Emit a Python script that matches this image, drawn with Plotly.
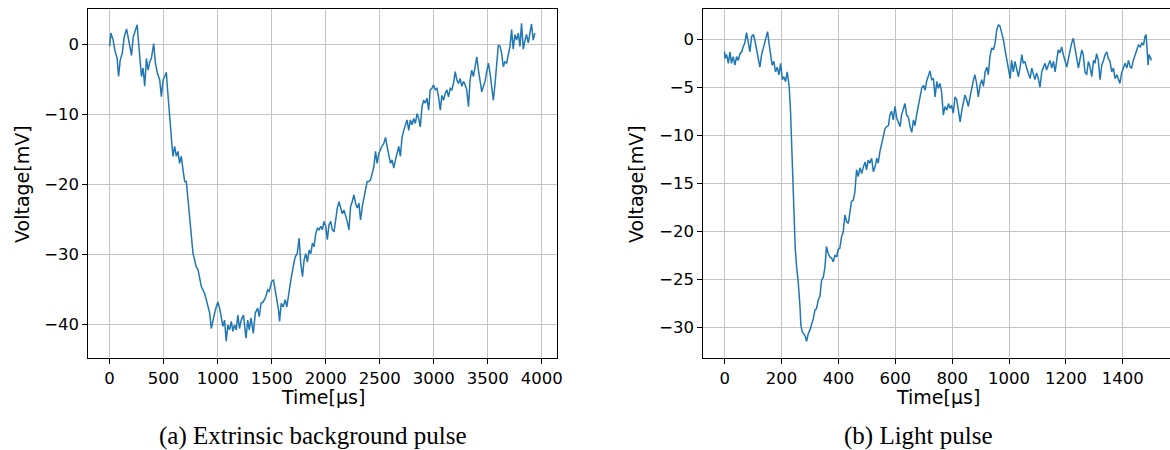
import plotly.graph_objects as go

# ---------------- data ----------------
# (a) Extrinsic background pulse
time_a = [0, 12, 33, 49, 70, 83, 98, 117, 135, 157, 172, 188, 203, 218, 234, 255, 264, 280, 295, 310,
          325, 341, 356, 372, 387, 408, 424, 442, 464, 479, 495, 510, 525, 534, 547, 562, 578, 587, 602, 618,
          633, 648, 664, 679, 695, 710, 725, 741, 756, 772, 787, 802, 818, 833, 849, 864, 879, 895, 910, 926,
          941, 956, 972, 987, 1002, 1018, 1033, 1049, 1064, 1079, 1095, 1110, 1126, 1141, 1156, 1172, 1187, 1202, 1218, 1239,
          1262, 1278, 1293, 1309, 1330, 1348, 1370, 1385, 1401, 1422, 1447, 1462, 1477, 1499, 1517, 1533, 1548, 1563, 1573, 1588,
          1606, 1625, 1640, 1656, 1677, 1699, 1717, 1736, 1754, 1769, 1785, 1800, 1815, 1831, 1846, 1862, 1877, 1892, 1908, 1923,
          1938, 1954, 1969, 1984, 2000, 2015, 2030, 2046, 2061, 2077, 2092, 2107, 2123, 2138, 2153, 2169, 2184, 2199, 2215, 2230,
          2245, 2261, 2276, 2292, 2307, 2322, 2338, 2353, 2368, 2384, 2399, 2414, 2430, 2445, 2461, 2476, 2491, 2507, 2522, 2537,
          2553, 2568, 2583, 2599, 2614, 2630, 2645, 2660, 2676, 2691, 2706, 2722, 2737, 2752, 2768, 2783, 2798, 2814, 2829, 2845,
          2860, 2875, 2891, 2906, 2921, 2937, 2952, 2967, 2983, 2998, 3014, 3029, 3044, 3060, 3075, 3090, 3106, 3121, 3136, 3152,
          3167, 3182, 3198, 3213, 3228, 3244, 3259, 3275, 3290, 3305, 3321, 3336, 3351, 3367, 3382, 3398, 3413, 3428, 3444, 3459,
          3474, 3490, 3505, 3520, 3536, 3551, 3567, 3582, 3597, 3613, 3628, 3643, 3659, 3674, 3689, 3705, 3720, 3735, 3751, 3766,
          3782, 3797, 3812, 3828, 3843, 3858, 3874, 3889, 3904, 3920, 3935]
volt_a = [-0.3, 1.6, 0.6, -0.9, -2.0, -4.6, -2.3, -1.3, 1.0, 2.2, 1.0, -0.4, -1.6, 1.0, 1.7, 2.8, 1.0, -2.0, -4.6, -3.4,
          -6.0, -2.0, -3.7, -2.5, -2.0, 0.1, -2.7, -4.1, -5.1, -7.5, -5.1, -4.6, -4.0, -6.0, -8.9, -11.8, -14.6, -16.0, -14.6, -16.0,
          -15.3, -17.0, -16.0, -17.9, -19.6, -19.6, -22.2, -25.1, -27.5, -29.9, -30.8, -31.8, -32.2, -33.7, -34.6, -35.1, -35.6, -36.5, -37.5, -38.4,
          -40.6, -39.4, -38.4, -37.5, -36.8, -37.7, -39.1, -40.3, -39.4, -42.4, -40.1, -40.8, -39.6, -41.0, -40.1, -40.8, -38.7, -40.6, -39.4, -38.7,
          -42.0, -39.4, -40.8, -39.1, -41.3, -38.4, -37.7, -38.9, -37.0, -36.8, -36.0, -35.1, -35.3, -33.9, -33.7, -35.1, -36.3, -37.9, -39.6, -37.0,
          -37.5, -36.5, -37.5, -35.6, -33.7, -31.8, -30.4, -29.9, -27.7, -31.3, -33.2, -30.8, -29.9, -31.1, -29.4, -29.9, -28.4, -28.9, -27.0, -26.3,
          -26.5, -26.0, -26.5, -25.3, -26.0, -27.9, -25.8, -25.3, -26.5, -26.8, -25.1, -23.4, -22.5, -23.2, -24.2, -23.7, -24.4, -25.3, -26.5, -23.2,
          -22.5, -21.5, -22.7, -23.4, -22.7, -25.1, -23.2, -22.2, -20.8, -19.6, -19.6, -19.4, -18.4, -17.5, -15.3, -17.0, -15.6, -14.9, -14.5, -14.2,
          -13.3, -14.6, -15.8, -17.0, -16.5, -17.7, -16.5, -15.6, -14.6, -16.0, -13.3, -12.3, -11.4, -10.8, -12.3, -10.8, -11.5, -10.6, -11.3, -9.9,
          -10.6, -11.8, -8.9, -8.0, -8.4, -7.7, -9.4, -6.5, -6.3, -5.8, -6.5, -6.3, -7.5, -9.4, -7.3, -8.0, -7.0, -6.5, -7.5, -6.3,
          -6.5, -5.6, -3.9, -5.1, -5.6, -4.9, -6.0, -5.3, -5.8, -6.5, -8.9, -5.1, -3.7, -4.6, -3.2, -1.8, -3.7, -5.1, -6.8, -6.0,
          -5.3, -3.9, -2.7, -4.1, -6.3, -8.0, -5.6, -2.5, -0.1, -0.3, -1.3, -3.2, -2.5, -2.7, -1.3, -0.3, 2.1, -0.7, 1.4, 0.6,
          1.6, -0.3, 3.0, -0.7, 0.5, 1.4, 0.2, 1.6, 2.9, 0.6, 1.6]

# (b) Light pulse
time_b = [0, 1, 7, 13, 19, 24, 30, 36, 42, 48, 54, 60, 65, 71, 77, 83, 89, 95, 101, 107,
          112, 118, 124, 130, 136, 142, 148, 151, 156, 162, 167, 173, 179, 185, 191, 197, 203, 208, 214, 220,
          224, 227, 232, 236, 239, 244, 248, 253, 259, 265, 268, 273, 278, 284, 288, 294, 300, 306, 312, 318,
          323, 329, 335, 341, 347, 353, 358, 364, 370, 376, 382, 388, 394, 399, 405, 411, 417, 423, 429, 435,
          440, 446, 452, 458, 464, 470, 476, 482, 488, 494, 499, 505, 511, 517, 523, 529, 535, 540, 546, 552,
          558, 564, 570, 576, 581, 587, 593, 599, 605, 611, 617, 622, 628, 634, 640, 646, 652, 658, 664, 669,
          675, 681, 687, 693, 699, 705, 710, 716, 722, 728, 734, 740, 746, 751, 757, 763, 769, 775, 781, 787,
          792, 798, 804, 810, 816, 822, 828, 834, 839, 845, 851, 857, 863, 869, 875, 880, 886, 892, 898, 904,
          910, 916, 922, 927, 933, 939, 945, 951, 957, 963, 968, 974, 980, 986, 992, 998, 1004, 1009, 1015, 1021,
          1027, 1033, 1039, 1045, 1050, 1056, 1062, 1068, 1074, 1080, 1086, 1091, 1097, 1103, 1109, 1115, 1121, 1127, 1132, 1138,
          1144, 1150, 1156, 1162, 1168, 1173, 1179, 1185, 1191, 1197, 1203, 1209, 1215, 1220, 1226, 1232, 1238, 1244, 1250, 1256,
          1261, 1267, 1273, 1279, 1285, 1291, 1297, 1302, 1308, 1314, 1320, 1326, 1332, 1338, 1344, 1349, 1355, 1361, 1367, 1373,
          1379, 1385, 1390, 1396, 1402, 1408, 1414, 1420, 1426, 1431, 1437, 1443, 1449, 1455, 1461, 1467, 1473, 1478, 1482, 1485,
          1489, 1492, 1496, 1501]
volt_b = [-1.3, -2.0, -1.6, -2.5, -1.3, -2.5, -1.8, -2.7, -1.8, -2.2, -1.5, -1.3, -0.8, -0.4, 0.7, -0.2, -1.3, 0.3, 0.5, -0.2,
          -1.1, -1.8, -2.9, -1.6, -0.9, -0.2, 0.3, 0.8, -0.4, -1.5, -2.7, -2.3, -3.4, -2.9, -3.7, -2.5, -4.2, -3.9, -4.4, -3.4,
          -4.6, -4.9, -7.7, -11.5, -14.7, -18.1, -21.6, -23.7, -25.4, -27.9, -29.8, -30.5, -30.7, -31.0, -31.5, -30.7, -30.3, -29.8, -29.1, -28.2,
          -28.1, -27.2, -26.8, -25.1, -24.8, -23.7, -21.6, -22.3, -22.7, -22.8, -23.2, -22.5, -22.7, -21.9, -21.8, -20.6, -20.1, -18.3, -19.0, -19.2,
          -18.1, -16.9, -16.8, -15.9, -13.6, -14.3, -13.4, -14.0, -13.3, -12.8, -13.6, -12.6, -12.9, -12.4, -13.8, -13.3, -12.4, -12.9, -11.7, -10.9,
          -9.8, -9.3, -9.1, -9.0, -7.9, -7.5, -8.4, -7.0, -8.2, -8.6, -9.1, -7.9, -7.4, -6.7, -7.9, -8.1, -9.1, -9.7, -8.4, -9.0,
          -7.9, -7.0, -6.0, -5.1, -4.8, -5.3, -4.4, -3.7, -3.3, -4.2, -4.1, -6.0, -4.4, -5.1, -4.6, -5.5, -7.9, -7.0, -7.4, -6.7,
          -7.2, -6.9, -7.7, -6.0, -6.3, -7.4, -8.6, -7.4, -6.7, -5.8, -6.3, -7.0, -6.0, -4.9, -4.2, -3.7, -4.6, -6.0, -4.8, -4.2,
          -4.9, -3.4, -2.9, -3.7, -1.8, -0.9, -1.1, -0.4, 1.0, 1.5, 1.4, 0.7, 0.0, -1.1, -2.0, -2.9, -4.1, -2.2, -3.4, -2.3,
          -3.0, -3.9, -2.9, -1.6, -2.5, -2.3, -3.0, -3.7, -4.1, -3.0, -3.7, -4.2, -3.5, -4.1, -5.0, -3.4, -2.9, -2.5, -3.2, -2.7,
          -2.2, -3.0, -2.3, -3.4, -1.8, -1.1, -1.4, -0.8, -1.6, -2.3, -2.9, -2.0, -1.1, -0.4, 0.1, -0.9, -1.6, -3.0, -2.0, -1.1,
          -1.6, -3.4, -3.7, -2.3, -2.9, -3.9, -2.2, -2.5, -1.5, -2.2, -4.2, -2.7, -2.2, -1.6, -1.3, -2.0, -2.3, -3.4, -3.0, -4.1,
          -3.7, -4.2, -4.6, -3.5, -2.9, -2.5, -3.0, -2.2, -2.9, -3.0, -2.2, -1.6, -1.1, -0.6, -0.8, -0.4, -0.6, 0.3, 0.5, -1.1,
          -2.7, -1.6, -1.8, -2.2]

xticks_a = [0, 500, 1000, 1500, 2000, 2500, 3000, 3500, 4000]
yticks_a = [-40, -30, -20, -10, 0]
xticks_b = [0, 200, 400, 600, 800, 1000, 1200, 1400]
yticks_b = [-30, -25, -20, -15, -10, -5, 0]
x_title = "Time[µs]"
y_title = "Voltage[mV]"
captions = ["(a) Extrinsic background pulse", "(b) Light pulse"]


def lab(v):
    return str(v).replace("-", "\u2212")


# ---------------- figure ----------------
W, H = 1170, 450
LINE = "#1f77b4"
GRID = "#c4c4c4"
TICKFONT = dict(family="DejaVu Sans", size=16.5, color="black")
TITLEFONT = dict(family="DejaVu Sans", size=19, color="black")

fig = go.Figure()
fig.add_trace(go.Scatter(x=time_a, y=volt_a, mode="lines", xaxis="x", yaxis="y",
                         line=dict(color=LINE, width=1.5), showlegend=False))
fig.add_trace(go.Scatter(x=time_b, y=volt_b, mode="lines", xaxis="x2", yaxis="y2",
                         line=dict(color=LINE, width=1.5), showlegend=False))

ydom = [1 - 358.3 / H, 1 - 9.3 / H]
common = dict(showgrid=True, gridcolor=GRID, gridwidth=1, zeroline=False,
              showline=True, linecolor="black", linewidth=1,
              ticks="outside", ticklen=5, tickwidth=1, tickcolor="black",
              tickfont=TICKFONT, tickmode="array", automargin=False)

fig.update_layout(
    width=W, height=H,
    margin=dict(l=0, r=0, t=0, b=0, autoexpand=False),
    paper_bgcolor="white", plot_bgcolor="white",
    xaxis=dict(domain=[88.3 / W, 557 / W], range=[-197, 4140], anchor="y", mirror=True,
               tickvals=xticks_a, ticktext=[lab(v) for v in xticks_a], **common),
    yaxis=dict(domain=ydom, range=[-44.86, 5.0], anchor="x", mirror=True,
               tickvals=yticks_a, ticktext=[lab(v) for v in yticks_a], **common),
    xaxis2=dict(domain=[703.3 / W, 1.0], range=[-75, 1566], anchor="y2", mirror=True,
                tickvals=xticks_b, ticktext=[lab(v) for v in xticks_b], **common),
    yaxis2=dict(domain=ydom, range=[-33.26, 3.13], anchor="x2", mirror=False,
                tickvals=yticks_b, ticktext=[lab(v) for v in yticks_b], **common),
)

ann = []
# axis titles
for cx in (322.6, 938.0):
    ann.append(dict(text=x_title, x=cx / W, y=1 - 397 / H, xref="paper", yref="paper",
                    xanchor="center", yanchor="middle", showarrow=False, font=TITLEFONT))
for cx in (22.0, 636.0):
    ann.append(dict(text=y_title, x=cx / W, y=1 - 184 / H, xref="paper", yref="paper",
                    xanchor="center", yanchor="middle", showarrow=False, textangle=-90,
                    font=TITLEFONT))
# captions
for cx, txt in zip((313.0, 918.0), captions):
    ann.append(dict(text=txt, x=cx / W, y=1 - 436 / H, xref="paper", yref="paper",
                    xanchor="center", yanchor="middle", showarrow=False,
                    font=dict(family="Liberation Serif", size=25, color="black")))
fig.update_layout(annotations=ann)

fig.write_html(
    "out.html",
    config={"displayModeBar": False},
    post_script="document.body.style.margin='0px';document.body.style.overflow='hidden';",
)
